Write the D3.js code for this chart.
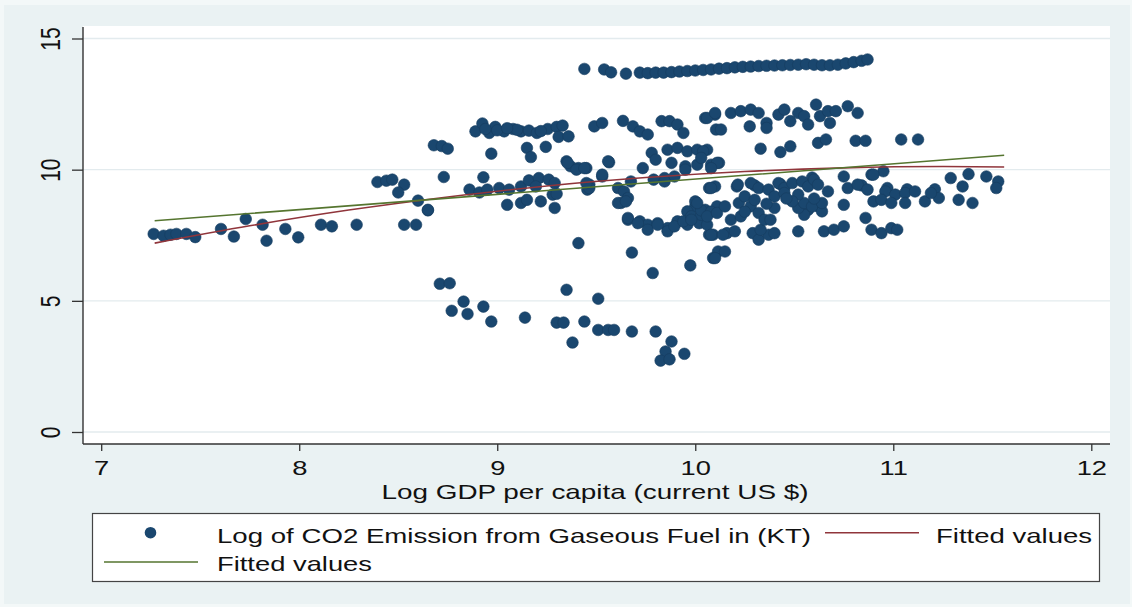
<!DOCTYPE html>
<html>
<head>
<meta charset="utf-8">
<script src="https://cdn.jsdelivr.net/npm/d3@7"></script>
<style>
  html, body { margin: 0; padding: 0; background: #eaf2f3; }
  svg { display: block; }
  text { font-family: "Liberation Sans", Arial, Helvetica, sans-serif; fill: #111; }
</style>
</head>
<body>
<svg id="chart" width="1132" height="607"></svg>
<script>
// ---------------- DATA ----------------
const xTicks = [7, 8, 9, 10, 11, 12];
const yTicks = [0, 5, 10, 15];
const xTitle = "Log GDP per capita (current US $)";
const legendLabels = ["Log of CO2 Emission from Gaseous Fuel in (KT)", "Fitted values", "Fitted values"];

// [log GDP per capita, log CO2 from gaseous fuel]
const lowIncomePts = [
  [7.265,7.55],[7.315,7.48],[7.35,7.52],[7.38,7.55],[7.43,7.55],[7.475,7.43],[7.605,7.74],[7.67,7.45],
  [7.73,8.12],[7.815,7.9],[7.835,7.29],[7.93,7.74],[7.995,7.42],[8.11,7.9],[8.165,7.84],[8.29,7.9]
];
const lowerMiddlePts = [
  [8.395,9.53],[8.44,9.58],[8.47,9.62],[8.53,9.43],[8.5,9.13],[8.6,8.82],[8.65,8.45],[8.53,7.9],[8.59,7.9],
  [8.68,10.93],[8.72,10.9],[8.75,10.8],[8.73,9.72],[8.65,8.47]
];
const lowEmissionPts = [
  [8.71,5.65],[8.76,5.67],[8.83,4.97],[8.77,4.62],[8.85,4.5],[8.93,4.78],[8.97,4.21],[9.14,4.36],[9.3,4.17],
  [9.335,4.17],[9.35,5.42],[9.38,3.41],[9.44,4.21],[9.51,5.08],[9.51,3.89],[9.56,3.89],[9.59,3.89],[9.68,3.83],
  [9.8,3.83],[9.88,3.45],[9.85,3.07],[9.945,2.98],[9.825,2.72],[9.87,2.77],
  [9.41,7.2],[9.68,6.84],[9.785,6.06],[9.975,6.35],[10.09,6.63],[10.115,6.88],[10.15,6.88]
];
const topRowPts = [
  [9.44,13.84],[9.54,13.82],[9.575,13.71],[9.65,13.66],[9.72,13.7],[9.76,13.68],[9.8,13.7],[9.84,13.7],
  [9.88,13.72],[9.92,13.74],[9.96,13.76],[10.0,13.78],[10.04,13.8],[10.08,13.82],[10.12,13.85],[10.16,13.87],
  [10.2,13.9],[10.24,13.92],[10.28,13.93],[10.32,13.95],[10.36,13.96],[10.4,13.97],[10.44,13.98],[10.48,13.99],
  [10.52,14.0],[10.56,14.02],[10.6,14.0],[10.64,13.98],[10.68,13.98],[10.72,14.0],[10.76,14.05],[10.8,14.1],
  [10.84,14.15],[10.87,14.2]
];
const upperMiddlePts = [
  [8.89,11.46],[8.925,11.76],[8.96,11.4],[8.99,11.63],[9.035,11.46],[9.08,11.55],[9.12,11.46],[9.16,11.49],
  [9.2,11.4],[9.255,11.55],[9.3,11.63],[9.33,11.68],[9.31,11.25],[9.36,11.27],
  [9.0,11.5],[9.1,11.52],[9.22,11.47],[9.05,11.58],[8.94,11.55],
  [8.97,10.61],[9.15,10.83],[9.17,10.48],[9.245,10.87],[8.93,9.71],[8.86,9.24],[8.91,9.13],[8.95,9.24],
  [9.01,9.3],[9.06,9.24],[9.12,9.36],[9.16,9.59],[9.21,9.68],[9.26,9.62],[9.29,9.49],[9.195,9.36],[9.05,8.66],
  [9.12,8.73],[9.15,8.85],[9.22,8.79],[9.28,9.05],[9.3,9.08],[9.29,8.54],[9.35,10.32],[9.37,10.13],[9.41,10.06],
  [9.45,10.06],[9.49,11.65],[9.53,11.78],[9.565,10.28],[9.53,9.74],[9.465,9.43],[9.455,9.24],[9.61,9.3],
  [9.64,9.17],[9.66,8.92],[9.625,8.73],[9.675,9.55],[9.635,11.86],[9.685,11.65],[9.72,11.46],[9.76,11.34],
  [9.735,10.06],[9.78,10.64],[9.8,10.38],[9.83,11.85],[9.87,11.85],[9.91,11.72],[9.94,11.4],[9.86,10.76],
  [9.91,10.83],[9.96,10.7],[10.01,10.76],[10.06,10.76],[9.88,10.26],[9.95,10.13],[10.01,10.19],[10.08,10.19],
  [9.845,9.68],[9.895,9.74],[10.05,11.97],[10.1,12.1],[10.105,11.53],[10.1,9.36],[10.0,8.6],[10.05,8.47],
  [9.355,10.26],[9.4,10.0],[9.44,10.06],[9.56,10.32],[9.53,9.81],[9.465,9.3],[9.45,9.49],[9.79,9.62],
  [9.845,9.55],[10.07,9.3],[10.0,8.79],[9.96,8.41],[10.11,8.6],[9.66,8.09],[9.72,8.03],[9.76,7.9],[9.81,7.96],
  [9.86,7.77],[9.91,8.03],[9.96,7.9],[10.02,7.96],[10.07,7.52],[10.16,7.58],[10.12,10.26],[9.95,10.0],
  [9.66,8.16],[9.71,7.96],[9.76,7.71],[9.81,7.9],[9.86,7.65],[9.895,7.84],[9.94,8.03],[9.98,8.22],
  [10.03,8.28],[10.06,7.9],[10.09,7.52],[9.61,8.73],[9.65,8.79],[9.98,8.09],[10.03,8.45],[10.08,8.4]
];
const highIncomePts = [
  [10.06,11.97],[10.1,12.16],[10.13,11.53],[10.18,12.16],[10.23,12.23],[10.28,12.29],[10.32,12.16],
  [10.275,11.65],[10.36,11.78],[10.36,11.59],[10.42,12.1],[10.45,12.29],[10.48,11.85],[10.52,12.16],
  [10.55,12.04],[10.57,11.72],[10.61,12.48],[10.63,12.04],[10.67,12.23],[10.68,11.78],[10.71,12.23],
  [10.77,12.42],[10.82,12.16],
  [10.04,10.7],[10.03,10.45],[10.11,10.26],[10.08,10.06],[10.33,10.8],[10.43,10.67],[10.48,10.89],
  [10.62,11.02],[10.66,11.15],[10.81,11.1],[10.86,11.1],[11.04,11.15],[11.125,11.15],
  [10.75,9.74],[10.89,9.81],[10.95,9.94],[11.29,9.68],[11.38,9.83],[11.47,9.74],[11.53,9.55],[11.35,9.36],
  [11.52,9.3],[10.21,9.36],[10.3,9.4],[10.43,9.45],[10.59,9.7],[10.84,9.4],[10.97,9.3],[11.07,9.25],[11.21,9.25],
  [10.08,9.3],[10.215,9.43],[10.28,9.49],[10.32,9.3],[10.37,9.24],[10.42,9.49],[10.45,9.3],[10.49,9.49],
  [10.54,9.55],[10.57,9.36],[10.6,9.62],[10.62,9.43],[10.67,9.17],[10.77,9.3],[10.82,9.43],[10.87,9.24],
  [10.9,9.81],[10.96,9.17],[11.01,9.05],[11.06,9.11],[11.11,9.17],[10.9,8.79],[10.94,8.85],[10.99,8.73],
  [11.06,8.73],[11.16,8.79],[11.23,8.92],[11.19,9.11],[11.33,8.85],[11.4,8.73],[10.75,8.66],[10.86,8.16],
  [10.89,7.71],[10.94,7.58],[10.99,7.77],[11.02,7.71],[10.65,7.65],[10.7,7.71],[10.75,7.84],[10.52,7.65],
  [10.57,8.47],[10.62,8.6],[10.64,8.41],[10.55,8.28],[10.4,8.54],[10.29,7.58],[10.32,7.33],[10.37,7.52],
  [10.4,7.58],[10.33,7.71],[10.08,7.52],[10.14,7.52],[10.2,7.65],[10.1,6.63],[10.01,8.73],[10.06,8.22],
  [10.11,8.35],[10.15,8.6],[10.18,8.09],[10.23,8.22],[10.22,8.73],[10.25,8.98],[10.28,8.6],[10.32,8.35],
  [10.35,8.09],[10.38,8.09],[10.52,8.54],[10.55,8.73],[10.59,8.6],[10.64,8.73],[10.4,8.98],[10.45,9.11],
  [10.52,9.05],[10.49,8.79],[10.3,8.85],[10.36,8.7],[10.46,8.9],[10.6,8.9],[10.25,8.4]
];
// Fitted values
const fitQuadratic = [[7.27,7.2],[7.75,7.86],[8.25,8.46],[8.75,8.96],[9.25,9.38],[9.75,9.7],[10.25,9.93],[10.75,10.07],[11.25,10.12],[11.56,10.1]];
const fitLinear = [[7.27,8.05],[9.4,9.29],[11.56,10.55]];

// ---------------- CHART ----------------
const W = 1132, H = 607;
const svg = d3.select("#chart");
const BG = "#eaf2f3", NAVY = "#1a476f", MAROON = "#90353b", GREEN = "#55752f";
const SX = 1.3; // horizontal stretch of the reference's text
const FS = 21;

svg.append("rect").attr("width", W).attr("height", H).attr("fill", "#f3f8f8");
svg.append("rect").attr("x", 4).attr("y", 5).attr("width", W - 6).attr("height", H - 8).attr("fill", BG);

const plot = { left: 83, right: 1110, top: 26, bottom: 444 };
const x = d3.scaleLinear().domain([7, 12]).range([101.2, 1091.3]);
const y = d3.scaleLinear().domain([0, 15]).range([432, 38.5]);

// plot region
svg.append("rect").attr("x", plot.left).attr("y", plot.top)
  .attr("width", plot.right - plot.left).attr("height", plot.bottom - plot.top).attr("fill", "#ffffff");

// grid
svg.append("g").selectAll("line").data(yTicks).join("line")
  .attr("x1", plot.left).attr("x2", plot.right)
  .attr("y1", d => y(d)).attr("y2", d => y(d))
  .attr("stroke", "#e3ebee").attr("stroke-width", 1.3);

// scatter
const allPts = [].concat(lowIncomePts, lowerMiddlePts, lowEmissionPts, topRowPts, upperMiddlePts, highIncomePts);
svg.append("g").selectAll("circle").data(allPts).join("circle")
  .attr("cx", d => x(d[0])).attr("cy", d => y(d[1])).attr("r", 5.8)
  .attr("fill", NAVY).attr("stroke", "#163d60").attr("stroke-width", 0.6);

// fitted lines
const line = d3.line().x(d => x(d[0])).y(d => y(d[1])).curve(d3.curveMonotoneX);
svg.append("path").datum(fitQuadratic).attr("d", line)
  .attr("fill", "none").attr("stroke", MAROON).attr("stroke-width", 1.6);
svg.append("path").datum(fitLinear).attr("d", d3.line().x(d => x(d[0])).y(d => y(d[1])))
  .attr("fill", "none").attr("stroke", GREEN).attr("stroke-width", 1.6);

// axes
const xAxis = svg.append("g").attr("transform", `translate(0,${plot.bottom})`)
  .call(d3.axisBottom(x).tickValues(xTicks).tickFormat(d3.format("d")).tickSize(7).tickSizeOuter(0));
xAxis.select(".domain").attr("d", `M${plot.left},0H${plot.right}`).attr("stroke", "#333").attr("stroke-width", 1.4);
xAxis.selectAll(".tick line").attr("stroke", "#333").attr("stroke-width", 1.3);
xAxis.selectAll(".tick text").attr("y", 31).attr("dy", 0)
  .attr("font-size", FS).attr("fill", "#111")
  .attr("transform", `scale(${SX},1)`);

const yAxis = svg.append("g").attr("transform", `translate(${plot.left},0)`)
  .call(d3.axisLeft(y).tickValues(yTicks).tickFormat(d3.format("d")).tickSize(11).tickSizeOuter(0));
yAxis.select(".domain").attr("d", `M0,${plot.top + 1}V${plot.bottom}`).attr("stroke", "#333").attr("stroke-width", 1.4);
yAxis.selectAll(".tick line").attr("stroke", "#333").attr("stroke-width", 1.3);
yAxis.selectAll(".tick text").attr("x", 0).attr("y", 0).attr("dy", 0)
  .attr("text-anchor", "middle").attr("font-size", FS).attr("fill", "#111")
  .attr("transform", `translate(-23,0) scale(${SX},1) rotate(-90)`);
svg.selectAll(".domain").attr("fill", "none");

// axis title
svg.append("text").attr("x", 595).attr("y", 499).attr("text-anchor", "middle")
  .attr("font-size", FS).attr("textLength", 427).attr("lengthAdjust", "spacingAndGlyphs")
  .text(xTitle);

// legend
const lg = svg.append("g");
lg.append("rect").attr("x", 92.5).attr("y", 513.5).attr("width", 1007).attr("height", 68)
  .attr("fill", "#ffffff").attr("stroke", "#444").attr("stroke-width", 1.2);
lg.append("circle").attr("cx", 150.5).attr("cy", 532.7).attr("r", 5.8).attr("fill", NAVY);
lg.append("text").attr("x", 217).attr("y", 542.7).attr("font-size", FS)
  .attr("textLength", 594).attr("lengthAdjust", "spacingAndGlyphs").text(legendLabels[0]);
lg.append("line").attr("x1", 825).attr("x2", 919).attr("y1", 532.7).attr("y2", 532.7)
  .attr("stroke", MAROON).attr("stroke-width", 1.6);
lg.append("text").attr("x", 936).attr("y", 542.7).attr("font-size", FS)
  .attr("textLength", 156).attr("lengthAdjust", "spacingAndGlyphs").text(legendLabels[1]);
lg.append("line").attr("x1", 104).attr("x2", 198).attr("y1", 562).attr("y2", 562)
  .attr("stroke", GREEN).attr("stroke-width", 1.6);
lg.append("text").attr("x", 217).attr("y", 570.5).attr("font-size", FS)
  .attr("textLength", 155).attr("lengthAdjust", "spacingAndGlyphs").text(legendLabels[2]);
</script>
</body>
</html>
